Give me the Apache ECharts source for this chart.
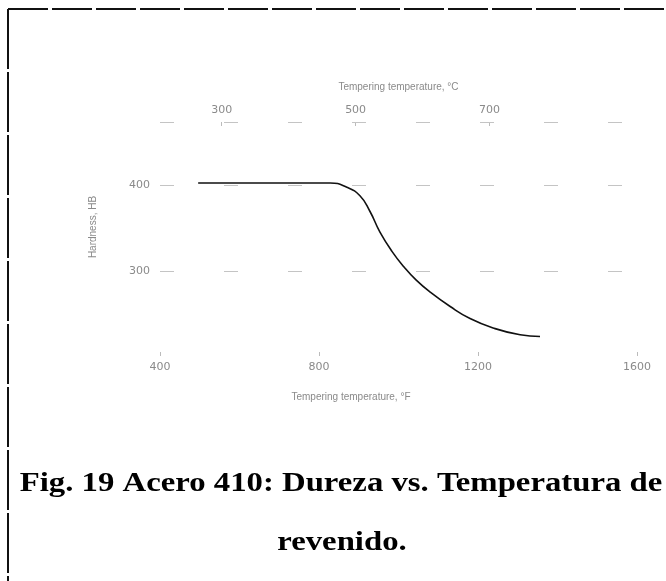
<!DOCTYPE html>
<html lang="es">
<head>
    <meta charset="UTF-8">
    <title>Acero 410: Dureza vs. Temperatura de revenido</title>
    <script src="https://cdn.jsdelivr.net/npm/echarts@6/dist/echarts.min.js"></script>
    <style>
        html, body { margin: 0; padding: 0; background: #fff; }
        #chart { width: 666px; height: 581px; }
    </style>
</head>
<body>
<div id="chart"></div>
<script>
    // temperatura de revenido (F) y dureza (HB)
    var tempF = [496, 828, 870, 903, 928, 953, 984, 1014, 1044, 1079, 1130, 1180, 1238, 1306, 1356];
    var hardness = [403, 403, 398, 388, 370, 346, 323, 305, 290, 276, 259, 245, 234, 226, 224];
    var ticksF = [400, 800, 1200, 1600];
    var ticksC = [300, 500, 700];
    var ticksHB = [300, 400];

    var faint = '#8a8a8a';
    var pts = [];
    for (var i = 0; i < tempF.length; i++) {
        pts.push([tempF[i], hardness[i]]);
    }
    var plain = function (v) { return String(v); };

    var chart = echarts.init(document.getElementById('chart'));
    chart.setOption({
        backgroundColor: '#fff',
        animation: false,
        grid: { left: 160, right: 29, top: 122, bottom: 229 },
        xAxis: [
            {
                type: 'value',
                position: 'bottom',
                min: 400, max: 1600,
                name: 'Tempering temperature, °F',
                nameLocation: 'middle',
                nameGap: 40,
                nameTextStyle: { color: faint, fontSize: 10, padding: [0, 95, 0, 0] },
                axisLine: { show: false },
                axisTick: { show: true, length: 4, customValues: ticksF, lineStyle: { color: '#bbb' } },
                axisLabel: { color: faint, fontSize: 11, margin: 10, customValues: ticksF, formatter: plain, fontFamily: 'DejaVu Sans' },
                splitLine: { show: false }
            },
            {
                type: 'value',
                position: 'top',
                min: 208, max: 920,
                name: 'Tempering temperature, °C',
                nameLocation: 'middle',
                nameGap: 30,
                nameTextStyle: { color: faint, fontSize: 10 },
                axisLine: { show: false },
                axisTick: { show: true, length: 4, inside: true, customValues: ticksC, lineStyle: { color: '#bbb' } },
                axisLabel: { color: faint, fontSize: 11, margin: 6, customValues: ticksC, formatter: plain, fontFamily: 'DejaVu Sans' },
                splitLine: { show: false }
            }
        ],
        yAxis: {
            type: 'value',
            min: 206, max: 474,
            name: 'Hardness, HB',
            nameLocation: 'middle',
            nameGap: 62,
            nameTextStyle: { color: faint, fontSize: 10, padding: [0, 0, 0, 20] },
            axisLine: { show: false },
            axisTick: { show: false },
            axisLabel: { color: faint, fontSize: 11, margin: 10, customValues: ticksHB, formatter: plain, fontFamily: 'DejaVu Sans' },
            splitLine: { show: false }
        },
        series: [
            {
                type: 'line',
                data: pts,
                smooth: 0.5,
                showSymbol: false,
                lineStyle: { color: '#111', width: 1.6 }
            },
            {
                // restos de la reticula que se ven en el escaneo
                type: 'line',
                data: [],
                markLine: {
                    silent: true,
                    symbol: 'none',
                    label: { show: false },
                    lineStyle: { color: '#c4c4c4', type: [14, 50], width: 1 },
                    data: [{ yAxis: 400 }, { yAxis: 300 }, { yAxis: 474 }]
                }
            }
        ],
        graphic: [
            {
                type: 'line',
                shape: { x1: 8, y1: 9, x2: 666, y2: 9 },
                style: { stroke: '#111', lineWidth: 2, lineDash: [40, 4] }
            },
            {
                type: 'line',
                shape: { x1: 8, y1: 9, x2: 8, y2: 581 },
                style: { stroke: '#111', lineWidth: 2, lineDash: [60, 3] }
            },
            {
                type: 'text',
                x: 341,
                y: 484,
                scaleX: 1.17,
                style: {
                    x: 0, y: 0,
                    text: 'Fig. 19 Acero 410: Dureza vs. Temperatura de',
                    font: 'bold 28px "Liberation Serif"',
                    align: 'center',
                    verticalAlign: 'middle',
                    fill: '#000'
                }
            },
            {
                type: 'text',
                x: 342,
                y: 543,
                scaleX: 1.17,
                style: {
                    x: 0, y: 0,
                    text: 'revenido.',
                    font: 'bold 28px "Liberation Serif"',
                    align: 'center',
                    verticalAlign: 'middle',
                    fill: '#000'
                }
            }
        ]
    });
</script>
</body>
</html>
